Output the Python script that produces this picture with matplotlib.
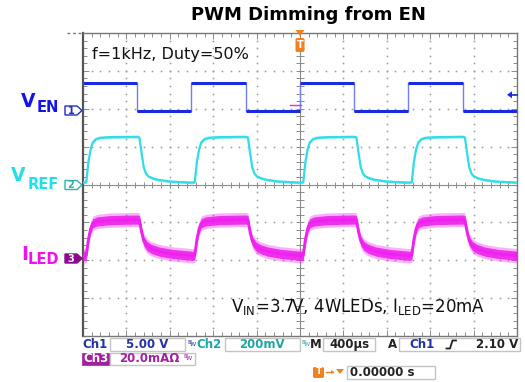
import numpy as np
import matplotlib
matplotlib.use("Agg")
import matplotlib.pyplot as plt
from matplotlib.patches import Polygon, Rectangle
from matplotlib.lines import Line2D

# ---------------- data ----------------
# time in ms (trigger at 0), 400 us/div
TIME_PER_DIV = 0.4
# Ch1: V_EN, 5 V/div, ground offset in divisions
CH1_SCALE, CH1_OFFSET = 5.0, 1.95
EN_T = [-2.0, -1.5, -1.5, -1.0, -1.0, -0.5, -0.5, 0.0, 0.0, 0.5, 0.5, 1.0, 1.0, 1.5, 1.5, 2.0]
EN_V = [3.7, 3.7, 0.0, 0.0, 3.7, 3.7, 0.0, 0.0, 3.7, 3.7, 0.0, 0.0, 3.7, 3.7, 0.0, 0.0]
RISE_EDGES = [-2.0, -1.0, 0.0, 1.0]
FALL_EDGES = [-1.5, -0.5, 0.5, 1.5]

# Ch2: V_REF, 200 mV/div, ground at centre
CH2_SCALE, CH2_OFFSET = 200.0, 0.0
VREF_RISE_DT = [0.0, 0.03, 0.05, 0.07, 0.09, 0.12, 0.16, 0.25, 0.5]
VREF_RISE_MV = [10, 12, 120, 185, 222, 240, 247, 250, 252]
VREF_FALL_DT = [0.0, 0.02, 0.04, 0.06, 0.08, 0.10, 0.14, 0.19, 0.3, 0.5]
VREF_FALL_MV = [252, 248, 165, 90, 58, 44, 33, 25, 16, 10]
VREF_NOISE_MV = 6

# Ch3: I_LED, 20 mA/div, ground offset in divisions
CH3_SCALE, CH3_OFFSET = 20.0, -1.94
ILED_RISE_DT = [0.0, 0.03, 0.05, 0.07, 0.09, 0.13, 0.25, 0.5]
ILED_RISE_MA = [1.0, 1.5, 10.0, 15.5, 18.3, 19.3, 20.0, 20.3]
ILED_FALL_DT = [0.0, 0.02, 0.04, 0.06, 0.09, 0.13, 0.2, 0.33, 0.5]
ILED_FALL_MA = [20.3, 20.0, 13.5, 9.0, 6.3, 4.8, 3.4, 2.1, 1.2]
ILED_NOISE_INNER, ILED_NOISE_OUTER = 2.4, 3.8

TRIG_LEVEL_V = 2.10

BLUE = "#1a2ae0"
CYAN = "#30dde8"
MAGENTA = "#ee22ee"
GRID = "#8c8c8c"

W, H = 525, 382


def fx(x):
    return x / W


def fy(y):
    return 1 - y / H


def build(rdt, rv, fdt, fv):
    ev = sorted([(t, 0) for t in RISE_EDGES] + [(t, 1) for t in FALL_EDGES])
    ts, vs = [], []
    for te, kind in ev:
        dts, vals = (rdt, rv) if kind == 0 else (fdt, fv)
        for d, v in zip(dts, vals):
            ts.append(te + d)
            vs.append(v)
    return np.array(ts), np.array(vs, dtype=float)


fig = plt.figure(figsize=(5.25, 3.82), dpi=100)
fig.patch.set_facecolor("white")
ax = fig.add_axes([fx(83), fy(336), 434 / W, 303 / H])
ax.set_xlim(-5, 5)
ax.set_ylim(-4, 4)
for s in ax.spines.values():
    s.set_color("#777777")
    s.set_linewidth(1.0)
ax.spines["left"].set_color("#555555")
ax.spines["left"].set_linewidth(1.6)
ax.set_xticks(np.arange(-5, 5.01, 1))
ax.set_yticks(np.arange(-4, 4.01, 1))
ax.set_xticks(np.arange(-5, 5.01, 0.2), minor=True)
ax.set_yticks(np.arange(-4, 4.01, 0.2), minor=True)
ax.tick_params(which="both", direction="in", top=True, right=True,
               labelbottom=False, labelleft=False, color=GRID, width=0.7)
ax.tick_params(which="major", length=4)
ax.tick_params(which="minor", length=3)

# graticule dots
sub_y = np.arange(-4, 4.01, 0.2)
sub_x = np.arange(-5, 5.01, 0.2)
for g in range(-4, 5):
    if g != 0:
        ax.plot([g] * len(sub_y), sub_y, ls="none", marker="s", ms=1.15, color="#9c9c9c", mew=0)
for g in range(-3, 4):
    if g != 0:
        ax.plot(sub_x, [g] * len(sub_x), ls="none", marker="s", ms=1.15, color="#9c9c9c", mew=0)
ax.axhline(0, color=GRID, lw=0.8, zorder=1)
ax.axvline(0, color=GRID, lw=0.8, zorder=1)
ax.plot(sub_x, np.zeros_like(sub_x), ls="none", marker="|", ms=5, mew=0.7, color=GRID)
ax.plot(np.zeros_like(sub_y), sub_y, ls="none", marker="_", ms=6, mew=0.7, color=GRID)

# Ch3: I_LED
t3, v3 = build(ILED_RISE_DT, ILED_RISE_MA, ILED_FALL_DT, ILED_FALL_MA)
x3 = t3 / TIME_PER_DIV
ax.fill_between(x3, (v3 - ILED_NOISE_OUTER) / CH3_SCALE + CH3_OFFSET,
                (v3 + ILED_NOISE_OUTER) / CH3_SCALE + CH3_OFFSET,
                color=MAGENTA, alpha=0.35, lw=0, zorder=3)
ax.fill_between(x3, (v3 - ILED_NOISE_INNER) / CH3_SCALE + CH3_OFFSET,
                (v3 + ILED_NOISE_INNER) / CH3_SCALE + CH3_OFFSET,
                color=MAGENTA, alpha=0.9, lw=0, zorder=3)
ax.plot(x3, v3 / CH3_SCALE + CH3_OFFSET, color=MAGENTA, lw=2.0, zorder=4)

# Ch2: V_REF
t2, v2 = build(VREF_RISE_DT, VREF_RISE_MV, VREF_FALL_DT, VREF_FALL_MV)
x2 = t2 / TIME_PER_DIV
ax.fill_between(x2, (v2 - VREF_NOISE_MV) / CH2_SCALE + CH2_OFFSET,
                (v2 + VREF_NOISE_MV) / CH2_SCALE + CH2_OFFSET,
                color=CYAN, alpha=0.6, lw=0, zorder=3)
ax.plot(x2, v2 / CH2_SCALE + CH2_OFFSET, color=CYAN, lw=1.6, zorder=4)

# Ch1: V_EN
xe = np.array(EN_T) / TIME_PER_DIV
ye = np.array(EN_V) / CH1_SCALE + CH1_OFFSET
ax.plot(xe, ye, color="#6f7ff0", lw=1.0, zorder=4)
for i in range(len(xe) - 1):
    if ye[i] == ye[i + 1]:
        ax.plot(xe[i:i + 2], ye[i:i + 2], color=BLUE, lw=2.2, zorder=5,
                solid_capstyle="butt")

# ---------------- overlay graphics (figure pixel coords) ----------------
def poly(pts, **kw):
    fig.patches.append(Polygon([(fx(a), fy(b)) for a, b in pts], closed=True,
                               transform=fig.transFigure, figure=fig, **kw))


def line(xs, ys, **kw):
    fig.lines.append(Line2D([fx(a) for a in xs], [fy(b) for b in ys],
                            transform=fig.transFigure, figure=fig, **kw))


def rect(x0, y0, x1, y1, **kw):
    fig.patches.append(Rectangle((fx(x0), fy(y1)), (x1 - x0) / W, (y1 - y0) / H,
                                 transform=fig.transFigure, figure=fig, **kw))


def txt(x, y, s, **kw):
    kw.setdefault("va", "center")
    fig.text(fx(x), fy(y), s, **kw)


# title
txt(308, 15, "PWM Dimming from EN", ha="center", fontsize=13, fontweight="bold",
    color="black")

# top-left dashes
line([67, 83], [32.5, 32.5], color="#777777", lw=1.0, ls=(0, (2, 2)))

# trigger marker at top
poly([(295.5, 30), (304.5, 30), (300, 36)], color="#f08020", lw=0)
fig.patches.append(matplotlib.patches.FancyBboxPatch(
    (fx(295.5), fy(52)), 9 / W, 14 / H, boxstyle="round,pad=0,rounding_size=0.004",
    transform=fig.transFigure, figure=fig, color="#f08020", lw=0))
txt(300, 45.5, "T", ha="center", fontsize=7, fontweight="bold", color="white")

# trigger level arrow at right edge
ytrig = 184.6 - (TRIG_LEVEL_V / CH1_SCALE + CH1_OFFSET) * 37.9
poly([(507, ytrig), (512, ytrig - 3.5), (512, ytrig + 3.5)], color=BLUE, lw=0)
line([511, 517], [ytrig, ytrig], color=BLUE, lw=1.2)
line([290, 301], [105, 105], color=MAGENTA, lw=1.0)

# annotations inside the screen
txt(92, 55, "f=1kHz, Duty=50%", ha="left", fontsize=11.5, color="#111111")
txt(231, 307, r"V$_{\mathregular{IN}}$=3.7V, 4WLEDs, I$_{\mathregular{LED}}$=20mA",
    ha="left", fontsize=12, color="#111111")

# channel labels
txt(21, 101.5, "V", ha="left", fontsize=13.5, fontweight="bold", color="#1414e6")
txt(37, 107.5, "EN", ha="left", fontsize=10.5, fontweight="bold", color="#1414e6")
txt(11, 175.5, "V", ha="left", fontsize=13.5, fontweight="bold", color="#22e0e8")
txt(28, 184, "REF", ha="left", fontsize=10.5, fontweight="bold", color="#22e0e8")
txt(21, 255, "I", ha="left", fontsize=13.5, fontweight="bold", color="#f010f0")
txt(28, 260, "LED", ha="left", fontsize=10.5, fontweight="bold", color="#f010f0")

# channel ground markers
def marker(y, label, edge, face, tcol):
    poly([(65, y - 4.5), (77, y - 4.5), (82, y), (77, y + 4.5), (65, y + 4.5)],
         facecolor=face, edgecolor=edge, lw=1.0)
    txt(71, y + 0.3, label, ha="center", fontsize=7, fontweight="bold", color=tcol)


marker(110.5, "1", "#2030c0", "white", "#2030c0")
marker(185, "2", "#30b0b0", "white", "#30b0b0")
marker(258.5, "3", "#8a0a8a", "#8a0a8a", "white")

# ---------------- status bar ----------------
SB = dict(fontsize=8.5, fontweight="bold")
BOX = dict(facecolor="white", edgecolor="#c4c4c4", lw=1.0)
DB = "#2232a0"
TEAL = "#1ea6a6"
PURP = "#a020a0"
r1 = 344.5
txt(82.5, r1, "Ch1", ha="left", color=DB, **SB)
rect(110, 338, 185, 351, **BOX)
txt(147, r1, "5.00 V", ha="center", color=DB, **SB)
txt(187, r1 - 2.5, "B", ha="left", fontsize=4.5, color=DB)
txt(190, r1 + 0.5, "W", ha="left", fontsize=4.5, color=DB)
txt(196.5, r1, "Ch2", ha="left", color=TEAL, **SB)
rect(225, 338, 300, 351, **BOX)
txt(262, r1, "200mV", ha="center", color=TEAL, **SB)
txt(301, r1 - 2.5, "B", ha="left", fontsize=4.5, color=TEAL)
txt(304, r1 + 0.5, "W", ha="left", fontsize=4.5, color=TEAL)
txt(309.5, r1, "M", ha="left", color="#222222", **SB)
rect(323, 338, 375, 351, **BOX)
txt(349.5, r1, "400µs", ha="center", color="#222222", **SB)
txt(387.5, r1, "A", ha="left", color="#222222", **SB)
rect(399, 338, 520, 351, **BOX)
txt(409.5, r1, "Ch1", ha="left", color=DB, **SB)
line([446.5, 450, 452.5, 456], [348.5, 348.5, 340.5, 340.5], color="#222222", lw=1.3)
txt(518, r1, "2.10 V", ha="right", color="#222222", **SB)

r2 = 358.5
rect(82, 352.5, 109, 364.5, facecolor=PURP, edgecolor=PURP, lw=0.5)
txt(95.5, r2, "Ch3", ha="center", color="white", **SB)
rect(110, 352.5, 195, 364.5, **BOX)
txt(119, r2, "20.0mAΩ", ha="left", color=PURP, **SB)
txt(183, r2 - 2.5, "B", ha="left", fontsize=4.5, color=PURP)
txt(186, r2 + 0.5, "W", ha="left", fontsize=4.5, color=PURP)

r3 = 372
fig.patches.append(matplotlib.patches.FancyBboxPatch(
    (fx(313), fy(378)), 11 / W, 11 / H, boxstyle="round,pad=0,rounding_size=0.004",
    transform=fig.transFigure, figure=fig, color="#f08020", lw=0))
txt(318.5, r3, "T", ha="center", fontsize=6.5, fontweight="bold", color="white")
line([326, 333], [r3, r3], color="#f08020", lw=1.0)
poly([(331, r3 - 2), (334, r3), (331, r3 + 2)], color="#f08020", lw=0)
poly([(336, r3 - 3), (344, r3 - 3), (340, r3 + 2)], color="#f08020", lw=0)
rect(347, 366, 435, 378.5, **BOX)
txt(350, r3, "0.00000 s", ha="left", color="#222222", **SB)

fig.savefig("out.png", dpi=100, facecolor="white")
